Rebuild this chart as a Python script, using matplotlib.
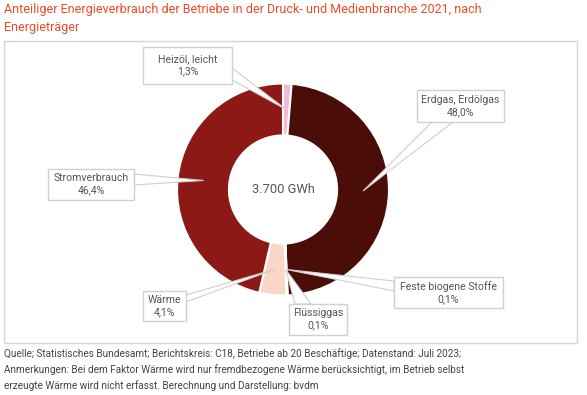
import matplotlib
matplotlib.use("Agg")
import matplotlib.pyplot as plt
from matplotlib.patches import Rectangle, Polygon
import numpy as np

# ---- data ----
categories = ["Heizöl, leicht", "Erdgas, Erdölgas", "Feste biogene Stoffe",
              "Flüssiggas", "Wärme", "Stromverbrauch"]
shares = [1.3, 48.0, 0.1, 0.1, 4.1, 46.4]
share_labels = ["1,3%", "48,0%", "0,1%", "0,1%", "4,1%", "46,4%"]
colors = ["#f5b8d6", "#4b0d08", "#b5442f", "#e8826c", "#fad6c6", "#8c1915"]
total_text = "3.700 GWh"
title = "Anteiliger Energieverbrauch der Betriebe in der Druck- und Medienbranche 2021, nach\nEnergieträger"
footnote = ("Quelle; Statistisches Bundesamt; Berichtskreis: C18, Betriebe ab 20 Beschäftige; Datenstand: Juli 2023;\n"
            "Anmerkungen: Bei dem Faktor Wärme wird nur fremdbezogene Wärme berücksichtigt, im Betrieb selbst\n"
            "erzeugte Wärme wird nicht erfasst. Berechnung und Darstellung: bvdm")

W, H = 587, 395
plt.rcParams['font.family'] = ['Roboto', 'DejaVu Sans']
fig = plt.figure(figsize=(W / 100, H / 100), dpi=100)

# background overlay axes in pixel coordinates
ov = fig.add_axes([0, 0, 1, 1])
ov.set_xlim(0, W)
ov.set_ylim(H, 0)
ov.axis("off")

ov.add_patch(Rectangle((4, 41), 573, 302, fill=False, edgecolor="#d6d6d6", lw=1.0))
ov.text(4, 3, title, ha="left", va="top", fontsize=9.0, color="#f04a24",
        linespacing=1.5, family=['Liberation Sans Narrow', 'Roboto'])
ov.text(4, 348, footnote, ha="left", va="top", fontsize=7.2, color="#444444",
        linespacing=1.6)

# pie
cx, cy, R = 283, 189.5, 106
pax = fig.add_axes([(cx - R) / W, (H - cy - R) / H, 2 * R / W, 2 * R / H])
wedges, _ = pax.pie(shares, colors=colors, startangle=90, counterclock=False,
                    radius=1.0,
                    wedgeprops=dict(width=0.49, edgecolor="white", linewidth=1.5))
pax.set_xlim(-1, 1)
pax.set_ylim(-1, 1)
pax.axis("off")
pax.text(0, 0, total_text, ha="center", va="center", fontsize=9.3, color="#555555")

# foreground overlay for leaders and label boxes
top = fig.add_axes([0, 0, 1, 1])
top.set_xlim(0, W)
top.set_ylim(H, 0)
top.axis("off")
top.patch.set_alpha(0)

boxes = [
    (143, 47, 232, 84),
    (417, 90, 504, 122),
    (394, 277, 503, 308),
    (289, 304, 347, 335),
    (143, 291, 186, 321),
    (48, 169, 134, 200),
]
bases = [
    ((232, 68), (232, 80)),
    ((432, 122), (453, 122)),
    ((394, 281), (394, 291)),
    ((295, 304), (311, 304)),
    ((186, 295), (186, 302)),
    ((134, 174), (134, 185)),
]

fig.canvas.draw()
cum = np.cumsum([0] + shares)
tot = sum(shares)
for i, (cat, lab) in enumerate(zip(categories, share_labels)):
    mid = 90 - 360 * (cum[i] + cum[i + 1]) / 2 / tot
    r = 0.755
    px_ = pax.transData.transform((r * np.cos(np.radians(mid)), r * np.sin(np.radians(mid))))
    tip = (px_[0], H - px_[1])
    (b1, b2) = bases[i]
    top.add_patch(Polygon([b1, tip, b2], closed=True, facecolor="white",
                          edgecolor="#cfcfcf", lw=0.8, zorder=3))
    x0, y0, x1, y1 = boxes[i]
    top.add_patch(Rectangle((x0, y0), x1 - x0, y1 - y0, facecolor="white",
                            edgecolor="#d0d0d0", lw=1.0, zorder=4))
    top.text((x0 + x1) / 2, (y0 + y1) / 2, f"{cat}\n{lab}", ha="center", va="center",
             fontsize=7.6, color="#555555", linespacing=1.3, zorder=5)

fig.savefig("out.png", dpi=100)
